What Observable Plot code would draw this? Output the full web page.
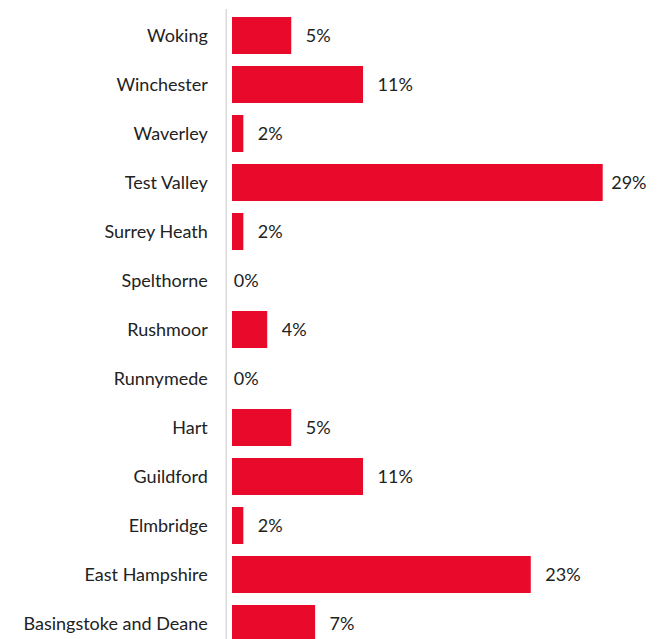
<!DOCTYPE html>
<html><head><meta charset="utf-8">
<script src="https://cdn.jsdelivr.net/npm/d3@7"></script>
<script src="https://cdn.jsdelivr.net/npm/@observablehq/plot@0.6"></script>
<style>
body{margin:0;background:#fff}
#chart{width:668px;height:639px;overflow:hidden}
</style>
</head><body><div id="chart"></div>
<script>
const districts = ["Woking","Winchester","Waverley","Test Valley","Surrey Heath","Spelthorne","Rushmoor","Runnymede","Hart","Guildford","Elmbridge","East Hampshire","Basingstoke and Deane"];
const shares = [5.36,10.71,1.79,28.57,1.79,0,3.57,0,5.36,10.71,1.79,23.21,7.14];
const shareLabels = ["5%","11%","2%","29%","2%","0%","4%","0%","5%","11%","2%","23%","7%"];

const data = districts.map((d,i)=>({district:d, share:shares[i], label:shareLabels[i]}));
const maxShare = d3.max(shares);

const chart = Plot.plot({
  width: 668, height: 649,
  marginTop: 9, marginBottom: 0, marginLeft: 219.3, marginRight: 46.1,
  style: {fontFamily: "Lato, 'Open Sans', sans-serif", fontSize: "18px", color: "#222", background: "#fff"},
  x: {domain: [0, 30], axis: null},
  y: {domain: districts, paddingInner: 0.252, paddingOuter: 0.126, label: null},
  marks: [
    Plot.barX(data.filter(d => d.share > 0), {x: "share", y: "district", fill: "#E8092B", insetLeft: 12.7}),
    Plot.ruleX([0], {dx: 6.5, stroke: "#d9d9d9", strokeWidth: 1.5}),
    Plot.text(data.filter(d => d.share < maxShare), {x: "share", y: "district", text: "label", textAnchor: "start", dx: 14, fill: "#222"}),
    Plot.text(data.filter(d => d.share === maxShare), {x: "share", y: "district", text: "label", textAnchor: "start", dx: 8, fill: "#222"}),
    Plot.axisY({tickSize: 0, tickPadding: 12, label: null, fill: "#222"})
  ]
});
document.getElementById("chart").append(chart);
</script>
</body></html>
